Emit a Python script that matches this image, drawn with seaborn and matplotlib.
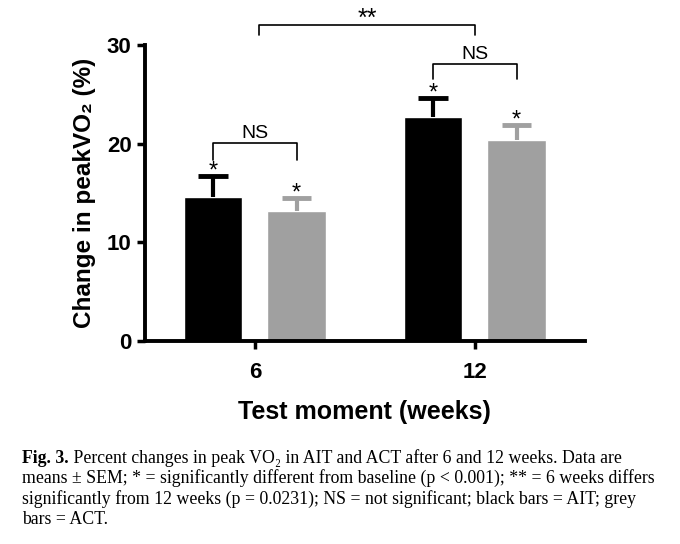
import numpy as np
import pandas as pd
import matplotlib
matplotlib.use("Agg")
import matplotlib.pyplot as plt
import seaborn as sns

# Data
weeks = ["6", "12"]
groups = ["AIT", "ACT"]
ait_mean = [14.6, 22.7]
ait_sem = [2.1, 1.9]
act_mean = [13.2, 20.4]
act_sem = [1.3, 1.5]

df = pd.DataFrame({
    "week": weeks * 2,
    "group": ["AIT"] * 2 + ["ACT"] * 2,
    "change": ait_mean + act_mean,
    "sem": ait_sem + act_sem,
})

sns.set_style("ticks", {"axes.edgecolor": "black", "text.color": "black",
                        "axes.labelcolor": "black", "xtick.color": "black",
                        "ytick.color": "black"})
sans = ["Liberation Sans", "DejaVu Sans"]
serif = ["Liberation Serif", "DejaVu Serif"]
plt.rcParams["font.family"] = sans

fig = plt.figure(figsize=(6.8, 5.44), dpi=100)
ax = fig.add_axes([0.213, 0.373, 0.647, 0.544])

palette = {"AIT": "#000000", "ACT": "#a0a0a0"}
sns.barplot(data=df, x="week", y="change", hue="group", order=weeks,
            hue_order=groups, palette=palette, width=0.76, gap=0.3,
            errorbar=None, saturation=1, legend=False, ax=ax)

# error bars (upper half only), taken from the bar positions
bars = ax.patches
for b, (_, row) in zip(bars, df.iterrows()):
    cx = b.get_x() + b.get_width() / 2
    hw = b.get_width() / 4
    col = palette[row["group"]]
    top = row["change"] + row["sem"]
    ax.plot([cx, cx], [row["change"], top], color=col, lw=3,
            solid_capstyle="butt")
    ax.plot([cx - hw, cx + hw], [top, top], color=col, lw=3.5,
            solid_capstyle="butt")
    ax.text(cx, top - 0.15, "*", ha="center", va="baseline", fontsize=17)

centers = [b.get_x() + b.get_width() / 2 for b in bars]
# centers order: AIT-6, AIT-12, ACT-6, ACT-12

def bracket(x1, x2, y, drop, label, fs=14, off=0.45):
    ax.plot([x1, x1, x2, x2], [y - drop, y, y, y - drop], color="black",
            lw=1.2, clip_on=False)
    ax.text((x1 + x2) / 2, y + off, label, ha="center", va="baseline",
            fontsize=fs)

bracket(centers[0], centers[2], 20.1, 1.7, "NS")
bracket(centers[1], centers[3], 28.1, 1.5, "NS")
bracket(0.02, 1.0, 32.0, 1.0, "**", fs=18, off=-0.05)

ax.set_ylim(0, 30)
ax.set_xlim(-0.5, 1.5)
ax.set_yticks([0, 10, 20, 30])
ax.set_xlabel("Test moment (weeks)", fontsize=18, fontweight="bold",
              labelpad=12)
ax.set_ylabel("Change in peakVO\u2082 (%)", fontsize=17.5, fontweight="bold",
              labelpad=8)
ax.tick_params(axis="both", width=2.5, length=6, labelsize=16)
for lab in ax.get_xticklabels() + ax.get_yticklabels():
    lab.set_fontweight("bold")
ax.tick_params(axis="x", pad=9)
for s in ["left", "bottom"]:
    ax.spines[s].set_linewidth(2.8)
sns.despine(ax=ax)

# caption
cap_fs = 12.8
t = fig.text(22 / 680, 1 - 463 / 544, "Fig. 3.", fontsize=cap_fs,
             fontweight="bold", family=serif, va="baseline")
ax.annotate(" Percent changes in peak VO\u2082 in AIT and ACT after 6 and 12 weeks. Data are",
            xy=(1, 0), xycoords=t, va="bottom", fontsize=cap_fs, family=serif,
            annotation_clip=False)
lines = [
    "means \u00b1 SEM; * = significantly different from baseline (p < 0.001); ** = 6 weeks differs",
    "significantly from 12 weeks (p = 0.0231); NS = not significant; black bars = AIT; grey",
    "bars = ACT.",
]
for i, line in enumerate(lines):
    fig.text(22 / 680, 1 - (483 + 20.5 * i) / 544, line, fontsize=cap_fs,
             family=serif, va="baseline")

fig.savefig("out.png", dpi=100)
